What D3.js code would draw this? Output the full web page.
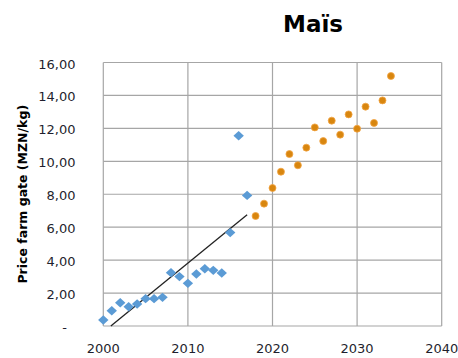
<!DOCTYPE html>
<html>
<head>
<meta charset="utf-8">
<script src="https://cdn.jsdelivr.net/npm/d3@7"></script>
<style>
  html, body { margin: 0; padding: 0; background: #fff; }
  svg { display: block; }
</style>
</head>
<body>
<svg id="chart" width="458" height="358"></svg>
<script>
// Observed farm-gate prices (blue diamonds)
const histYears  = [2000, 2001, 2002, 2003, 2004, 2005, 2006, 2007, 2008, 2009, 2010, 2011, 2012, 2013, 2014, 2015, 2016, 2017];
const histPrices = [0.36, 0.93, 1.41, 1.17, 1.34, 1.66, 1.66, 1.74, 3.24, 3.00, 2.59, 3.16, 3.48, 3.38, 3.22, 5.67, 11.55, 7.93];

// Projected prices (orange dots)
const projYears  = [2018, 2019, 2020, 2021, 2022, 2023, 2024, 2025, 2026, 2027, 2028, 2029, 2030, 2031, 2032, 2033, 2034];
const projPrices = [6.68, 7.43, 8.38, 9.37, 10.44, 9.76, 10.83, 12.06, 11.23, 12.47, 11.62, 12.85, 11.98, 13.32, 12.33, 13.70, 15.18];

const xTicks = [2000, 2010, 2020, 2030, 2040];
const yTicks = [0, 2, 4, 6, 8, 10, 12, 14, 16];
const titleText = "Maïs";
const yAxisTitle = "Price farm gate (MZN/kg)";

const svg = d3.select("#chart");
const plotLeft = 103.3, plotRight = 441.7, plotTop = 62.5, plotBottom = 326;

const x = d3.scaleLinear().domain([2000, 2040]).range([plotLeft, plotRight]);
const y = d3.scaleLinear().domain([0, 16]).range([plotBottom, plotTop]);

const gridColor = "#a6a6a6";
const textColor = "#1f1f2e";
const font = "'DejaVu Sans', Verdana, sans-serif";

// Gridlines and frame
const grid = svg.append("g");
grid.selectAll("line.h").data(yTicks).enter().append("line")
  .attr("x1", plotLeft).attr("x2", plotRight)
  .attr("y1", d => y(d)).attr("y2", d => y(d))
  .attr("stroke", gridColor).attr("stroke-width", 1.2);
grid.selectAll("line.v").data(xTicks).enter().append("line")
  .attr("y1", plotTop).attr("y2", plotBottom)
  .attr("x1", d => x(d)).attr("x2", d => x(d))
  .attr("stroke", gridColor).attr("stroke-width", 1.2);

// Y tick labels (accounting style: zero shown as a dash)
svg.append("g").selectAll("text").data(yTicks).enter().append("text")
  .attr("x", d => d === 0 ? 67 : 75.5)
  .attr("y", d => y(d) + 1.5)
  .attr("dy", "0.35em")
  .attr("text-anchor", "end")
  .attr("font-family", font).attr("font-size", 13)
  .attr("fill", textColor)
  .text(d => d === 0 ? "-" : d3.format(".2f")(d).replace(".", ","));

// X tick labels
svg.append("g").selectAll("text").data(xTicks).enter().append("text")
  .attr("x", d => x(d))
  .attr("y", 353)
  .attr("text-anchor", "middle")
  .attr("font-family", font).attr("font-size", 13)
  .attr("fill", textColor)
  .text(d => d);

// Axis title
svg.append("text")
  .attr("transform", `translate(27,${(plotTop + plotBottom) / 2}) rotate(-90)`)
  .attr("text-anchor", "middle")
  .attr("font-family", font).attr("font-size", 12.5).attr("font-weight", "bold")
  .attr("fill", "#000")
  .text(yAxisTitle);

// Chart title
svg.append("text")
  .attr("x", 313).attr("y", 32.3)
  .attr("text-anchor", "middle")
  .attr("font-family", font).attr("font-size", 23).attr("font-weight", "bold")
  .attr("fill", "#000")
  .text(titleText);

// Linear trend through the observed series, clipped at the zero line
const n = histYears.length;
const mx = d3.mean(histYears), my = d3.mean(histPrices);
const slope = d3.sum(histYears, (v, i) => (v - mx) * (histPrices[i] - my)) /
              d3.sum(histYears, v => (v - mx) * (v - mx));
const trend = yr => my + slope * (yr - mx);
const tStart = Math.max(histYears[0], mx - my / slope);
const tEnd = histYears[n - 1];
svg.append("line")
  .attr("x1", x(tStart)).attr("y1", y(trend(tStart)))
  .attr("x2", x(tEnd)).attr("y2", y(trend(tEnd)))
  .attr("stroke", "#222").attr("stroke-width", 1.3);

// Observed diamonds
const hist = histYears.map((yr, i) => ({ yr, v: histPrices[i] }));
svg.append("g").selectAll("path").data(hist).enter().append("path")
  .attr("transform", d => `translate(${x(d.yr)},${y(d.v)})`)
  .attr("d", "M0,-4.7L5.2,0L0,4.7L-5.2,0Z")
  .attr("fill", "#5b9bd5");

// Projected dots
const proj = projYears.map((yr, i) => ({ yr, v: projPrices[i] }));
svg.append("g").selectAll("circle").data(proj).enter().append("circle")
  .attr("cx", d => x(d.yr)).attr("cy", d => y(d.v))
  .attr("r", 3.5)
  .attr("fill", "#d8860f")
  .attr("stroke", "#f2a444").attr("stroke-width", 0.8);
</script>
</body>
</html>
